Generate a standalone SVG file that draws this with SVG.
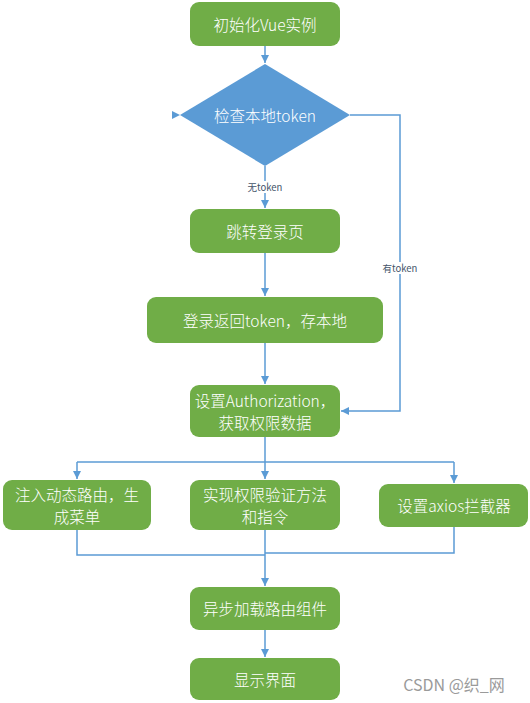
<svg xmlns="http://www.w3.org/2000/svg" width="530" height="703" viewBox="0 0 530 703">
<defs>
<marker id="arr" viewBox="0 0 10 10" refX="10" refY="5" markerWidth="8" markerHeight="8" markerUnits="userSpaceOnUse" orient="auto">
<path d="M0,0 L10,5 L0,10 z" fill="#5B9BD5"/>
</marker>
<style>
.n{fill:#70AD47;}
.t{font-family:"Noto Sans CJK SC","Liberation Sans",sans-serif;font-size:15.5px;font-weight:300;fill:#fff;text-anchor:middle;dominant-baseline:central;}
.c{fill:none;stroke:#5B9BD5;stroke-width:1.5;}
.l{font-family:"Noto Sans CJK SC","Liberation Sans",sans-serif;font-size:9.5px;fill:#44546A;text-anchor:middle;dominant-baseline:central;}
</style>
</defs>
<rect width="530" height="703" fill="#fff"/>
<g id="connectors">
<path class="c" d="M265,46 V63" marker-end="url(#arr)"/>
<path class="c" d="M265,166 V208" marker-end="url(#arr)"/>
<rect x="244" y="181" width="42" height="12" fill="#fff"/>
<text class="l" x="265" y="187">无token</text>
<path class="c" d="M350,115 H400 V411 H341" marker-end="url(#arr)"/>
<rect x="380" y="262" width="40" height="12" fill="#fff"/>
<text class="l" x="400" y="268">有token</text>
<polygon points="172,111 180,115 172,119" fill="#5B9BD5"/>
<path class="c" d="M265,253 V296" marker-end="url(#arr)"/>
<path class="c" d="M265,343 V384" marker-end="url(#arr)"/>
<path class="c" d="M265,437 V479" marker-end="url(#arr)"/>
<path class="c" d="M77,462 H454"/>
<path class="c" d="M77,462 V479" marker-end="url(#arr)"/>
<path class="c" d="M454,462 V483" marker-end="url(#arr)"/>
<path class="c" d="M77,530 V555 H265"/>
<path class="c" d="M454,527 V553 H265"/>
<path class="c" d="M265,530 V586" marker-end="url(#arr)"/>
<path class="c" d="M265,630 V657" marker-end="url(#arr)"/>
</g>
<g id="n1"><rect class="n" x="190" y="2" width="150" height="44" rx="9"/><text class="t" x="265" y="24">初始化Vue实例</text></g>
<g id="n2"><polygon points="265,64 350,115 265,166 180,115" fill="#5B9BD5"/><text class="t" x="265" y="115">检查本地token</text></g>
<g id="n3"><rect class="n" x="190" y="209" width="150" height="44" rx="9"/><text class="t" x="265" y="231">跳转登录页</text></g>
<g id="n4"><rect class="n" x="147" y="297" width="236" height="46" rx="9"/><text class="t" x="265" y="320">登录返回token，存本地</text></g>
<g id="n5"><rect class="n" x="190" y="385" width="150" height="52" rx="9"/><text class="t" x="265" y="400">设置Authorization，</text><text class="t" x="265" y="422">获取权限数据</text></g>
<g id="n6"><rect class="n" x="3" y="480" width="148" height="50" rx="9"/><text class="t" x="77" y="494">注入动态路由，生</text><text class="t" x="77" y="516">成菜单</text></g>
<g id="n7"><rect class="n" x="190" y="480" width="150" height="50" rx="9"/><text class="t" x="265" y="494">实现权限验证方法</text><text class="t" x="265" y="516">和指令</text></g>
<g id="n8"><rect class="n" x="379" y="484" width="149" height="43" rx="9"/><text class="t" x="454" y="505">设置axios拦截器</text></g>
<g id="n9"><rect class="n" x="190" y="587" width="150" height="43" rx="9"/><text class="t" x="265" y="608">异步加载路由组件</text></g>
<g id="n10"><rect class="n" x="190" y="658" width="150" height="42" rx="9"/><text class="t" x="265" y="679">显示界面</text></g>
<text x="454" y="684" font-family="'Noto Sans CJK SC','Liberation Sans',sans-serif" font-size="16" fill="#9a9a9a" text-anchor="middle" dominant-baseline="central">CSDN @织_网</text>
</svg>
